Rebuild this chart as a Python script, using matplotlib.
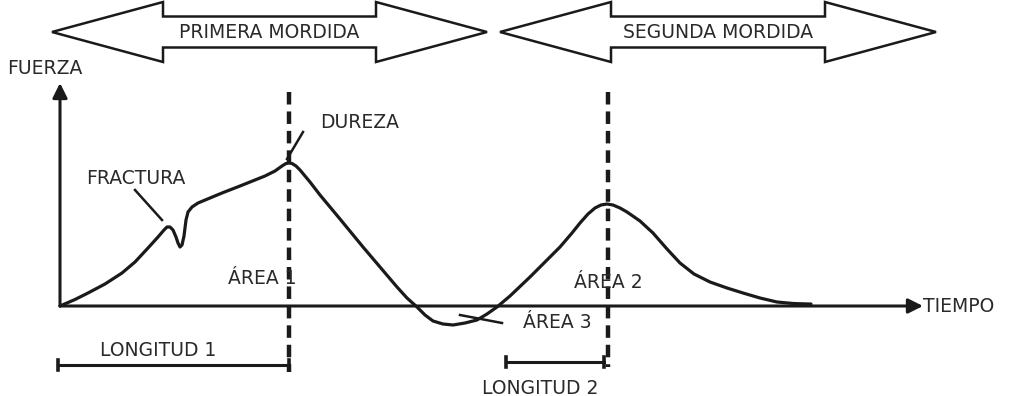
import matplotlib.pyplot as plt
from matplotlib.patches import Polygon

# force-time curve of a texture profile analysis (schematic units)
time = [0.0, 1.5, 2.8, 4.5, 6.2, 7.5, 8.8, 9.8, 10.4, 10.7, 11.0,
        11.3, 11.6, 11.8, 12.0, 12.2, 12.4, 12.6, 12.8, 13.2, 13.8, 15.0, 16.2,
        18.0, 19.5, 20.5, 21.5, 22.2, 22.6, 22.9, 23.2, 23.6, 24.0, 25.0, 26.0,
        27.0, 28.0, 30.3, 32.0, 33.7, 34.7, 35.7, 36.5, 37.3, 38.3, 39.3, 40.5,
        41.7, 42.7, 43.7, 45.0, 47.0, 48.5, 50.0, 51.2, 52.0, 52.8, 53.5, 54.1,
        54.7, 55.3, 56.0, 56.7, 58.0, 59.3, 60.7, 62.0, 63.4, 65.0, 66.7, 68.3,
        70.0, 71.7, 73.3, 74.8, 75.1]
force = [0.0, 0.65, 1.3, 2.2, 3.3, 4.4, 5.8, 6.9, 7.6, 7.9, 7.9,
         7.6, 6.9, 6.3, 5.9, 6.1, 7.0, 8.6, 9.4, 9.9, 10.3, 10.8, 11.3,
         12.0, 12.6, 13.0, 13.5, 14.0, 14.25, 14.3, 14.25, 14.0, 13.6, 12.4, 11.1,
         9.9, 8.7, 5.9, 3.9, 1.9, 0.8, -0.1, -0.9, -1.5, -1.8, -1.9, -1.7,
         -1.4, -0.8, -0.1, 1.0, 2.9, 4.4, 5.9, 7.3, 8.3, 9.2, 9.8, 10.1,
         10.2, 10.1, 9.8, 9.4, 8.5, 7.3, 5.7, 4.3, 3.2, 2.4, 1.8, 1.3,
         0.8, 0.4, 0.25, 0.2, 0.2]

peak_times = [22.9, 54.8]
bites = ['PRIMERA MORDIDA', 'SEGUNDA MORDIDA']
bite_start = [-0.8, 44.0]
bite_end = [42.7, 87.6]
lengths = ['LONGITUD 1', 'LONGITUD 2']
length_start = [-0.2, 44.6]
length_end = [22.9, 54.4]

ink = '#1a1a1a'
txt = '#2a2a2a'
fs = 13.5
plt.rcParams['lines.scale_dashes'] = False

fig = plt.figure(figsize=(10.16, 3.96), dpi=100)
ax = fig.add_axes([0, 0, 1, 1])
ax.set_xlim(-6.0, 95.6)
ax.set_ylim(-9.0, 30.6)
ax.set_axis_off()

# axes with arrows
arrow = dict(arrowstyle='-|>', color=ink, lw=2.2, mutation_scale=22,
             shrinkA=0, shrinkB=0)
ax.annotate('', xy=(86.3, 0), xytext=(0, 0), arrowprops=arrow)
ax.annotate('', xy=(0, 22.3), xytext=(0, 0), arrowprops=arrow)
ax.text(-5.3, 23.8, 'FUERZA', fontsize=fs, color=txt, ha='left', va='center')
ax.text(86.3, 0, 'TIEMPO', fontsize=fs, color=txt, ha='left', va='center')

# curve
ax.plot(time, force, color=ink, lw=2.3, solid_joinstyle='round',
        solid_capstyle='round')

# dashed lines at the peaks
ax.plot([peak_times[0]] * 2, [21.4, -6.6], color=ink, lw=3.2, dashes=(9, 5))
ax.plot([peak_times[1]] * 2, [21.4, -6.1], color=ink, lw=3.2, dashes=(9, 5))

# length brackets
for s, e, y in zip(length_start, length_end, [-5.9, -5.6]):
    ax.plot([s, e], [y, y], color=ink, lw=2.2)
    ax.plot([s, s], [y - 0.5, y + 0.5], color=ink, lw=2.6)
    ax.plot([e, e], [y - 0.5, y + 0.5], color=ink, lw=2.6)
ax.text(9.8, -4.4, lengths[0], fontsize=fs, color=txt, ha='center', va='center')
ax.text(48.0, -8.2, lengths[1], fontsize=fs, color=txt, ha='center', va='center')

# labels and leaders
ax.text(30.0, 18.3, 'DUREZA', fontsize=fs, color=txt, ha='center', va='center')
ax.plot([24.3, 22.7], [17.4, 14.7], color=ink, lw=1.8)
ax.text(7.6, 12.7, 'FRACTURA', fontsize=fs, color=txt, ha='center', va='center')
ax.plot([7.5, 10.2], [11.6, 8.6], color=ink, lw=1.8)
ax.text(20.2, 2.8, 'ÁREA 1', fontsize=fs, color=txt, ha='center', va='center')
ax.text(54.8, 2.3, 'ÁREA 2', fontsize=fs, color=txt, ha='center', va='center')
ax.text(49.7, -1.7, 'ÁREA 3', fontsize=fs, color=txt, ha='center', va='center')
ax.plot([40.0, 44.2], [-0.9, -1.7], color=ink, lw=1.8)

# double arrow banners for each bite
yc, shaft, head, hl = 27.4, 1.55, 3.0, 11.1
for name, x0, x1 in zip(bites, bite_start, bite_end):
    verts = [(x0, yc), (x0 + hl, yc + head), (x0 + hl, yc + shaft),
             (x1 - hl, yc + shaft), (x1 - hl, yc + head), (x1, yc),
             (x1 - hl, yc - head), (x1 - hl, yc - shaft),
             (x0 + hl, yc - shaft), (x0 + hl, yc - head)]
    ax.add_patch(Polygon(verts, closed=True, facecolor='white',
                         edgecolor=ink, lw=1.8, joinstyle='miter'))
    ax.text((x0 + x1) / 2, yc, name, fontsize=fs, color=txt,
            ha='center', va='center')

fig.savefig('out.png', dpi=100)
plt.close(fig)
